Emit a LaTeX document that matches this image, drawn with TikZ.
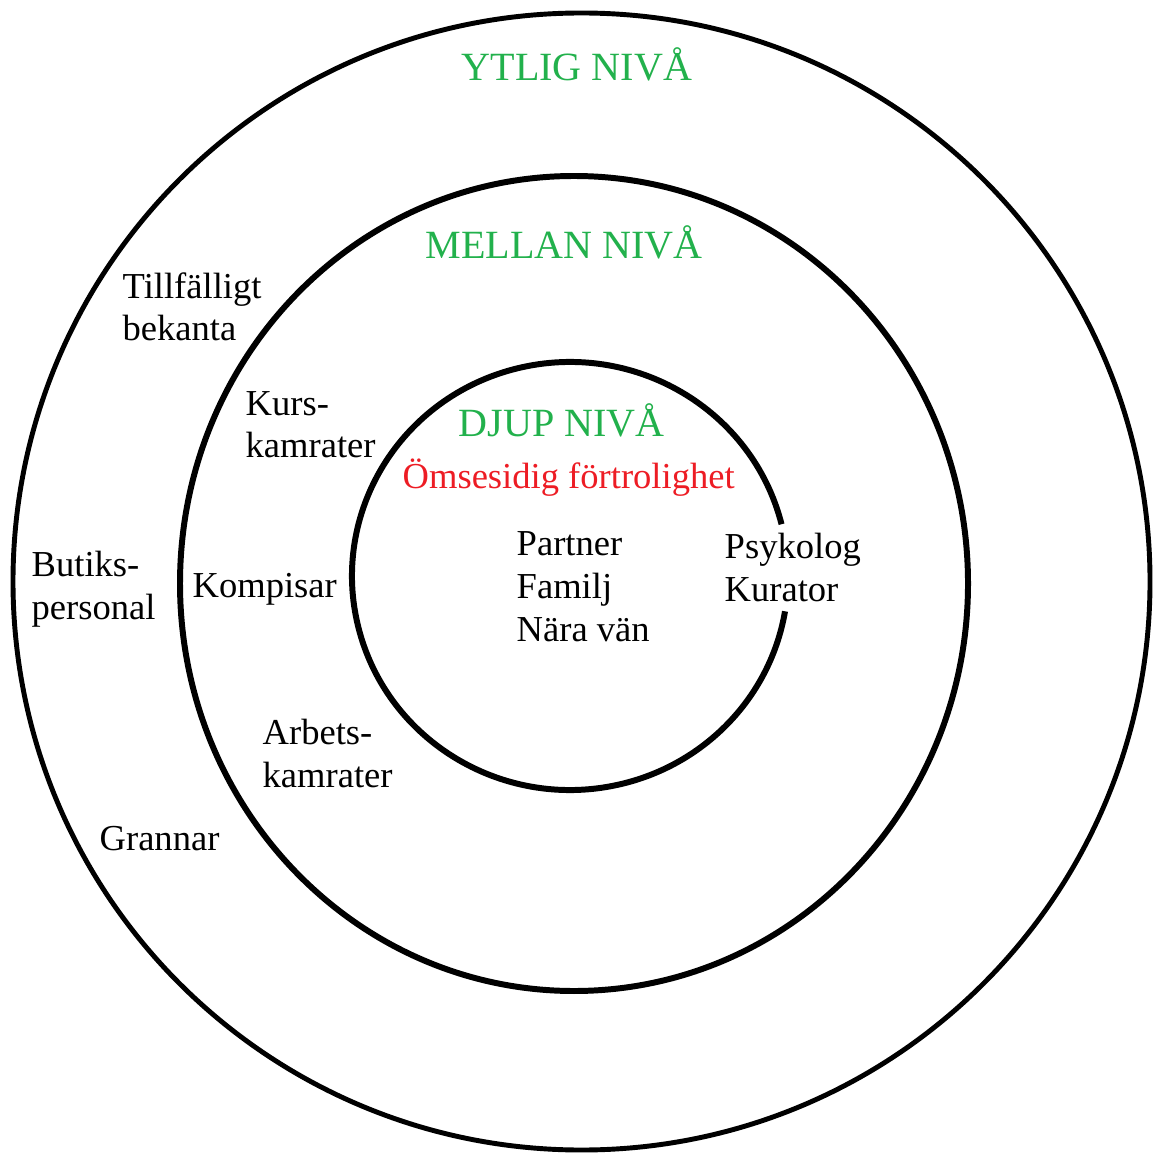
\documentclass[tikz,border=0pt]{standalone}
\usepackage{fontspec}
\setmainfont{Liberation Serif}
\usepackage{xcolor}
\definecolor{levelgreen}{RGB}{34,177,76}
\definecolor{trustred}{RGB}{237,28,36}

\begin{document}
\begin{tikzpicture}
        [
            every node/.append style = {anchor = base west, inner sep = 0pt, align = left,
                font = \fontsize{10.4}{12.2}\selectfont},
            level/.style = {text = levelgreen, font = \fontsize{11.4}{13}\selectfont},
            ring/.style = {draw, line width = 1.7pt}]
        \useasboundingbox (0,0) rectangle (11.53,-11.53);
        \coordinate (outer) at (5.815,-5.815);
        \coordinate (middle) at (5.74,-5.835);
        \coordinate (inner) at (5.70,-5.76);
        \draw[ring, line width = 1.4pt] (outer) circle [radius = 5.685];
        \draw[ring] (middle) ellipse [x radius = 3.94, y radius = 4.075];
        \draw[ring] (inner) ++(14:2.18 and 2.14) arc [start angle = 14, end angle = 350.5, x radius = 2.18, y radius = 2.14];
        \node[level] (ytlig) at (4.61,-0.81) {YTLIG NIVÅ};
        \node[level] (mellan) at (4.25,-2.59) {MELLAN NIVÅ};
        \node[level] (djup) at (4.58,-4.37) {DJUP NIVÅ};
        \node[text = trustred] (trust) at (4.02,-4.89) {Ömsesidig förtrolighet};
        \node (tillf) at (1.22,-3.41) {Tillfälligt\\bekanta};
        \node (kurs) at (2.45,-4.58) {Kurs-\\kamrater};
        \node (butik) at (0.31,-6.19) {Butiks-\\personal};
        \node (kompis) at (1.92,-5.97) {Kompisar};
        \node (arbete) at (2.62,-7.87) {Arbets-\\kamrater};
        \node (grannar) at (0.99,-8.50) {Grannar};
        \node (nara) at (5.16,-6.41) {Partner\\Familj\\Nära vän};
        \node (psyk) at (7.24,-6.01) {Psykolog\\Kurator};
    \end{tikzpicture}
\end{document}
